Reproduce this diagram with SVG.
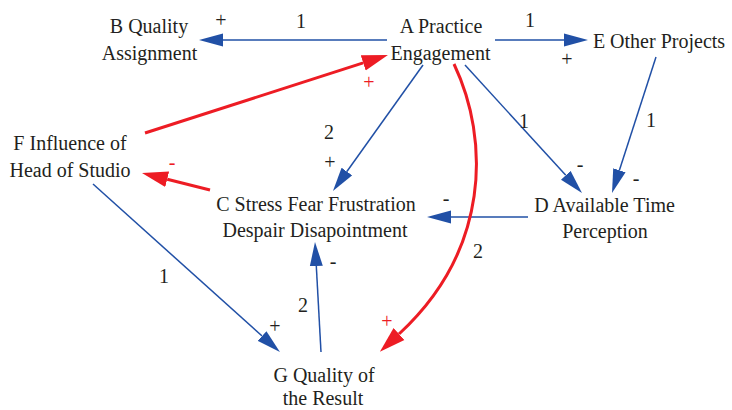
<svg xmlns="http://www.w3.org/2000/svg" width="732" height="410" viewBox="0 0 732 410" font-family="Liberation Serif, Noto Serif, DejaVu Serif, FreeSerif, Times, serif">
<style>
text{font-size:20px;fill:#231F20;text-anchor:middle}
.rl{fill:#ED1C24}
.b{fill:none;stroke:#2150A6;stroke-width:1.5;marker-end:url(#ab)}
.r{fill:none;stroke:#ED1C24;stroke-width:3;marker-end:url(#ar)}
</style>
<defs>
<marker id="ab" markerUnits="userSpaceOnUse" viewBox="0 -7 24 14" refX="0" refY="0" markerWidth="24" markerHeight="14" orient="auto">
<path d="M0,-6.5 L24,0 L0,6.5 z" fill="#2150A6"/>
</marker>
<marker id="ar" markerUnits="userSpaceOnUse" viewBox="0 -9 26 18" refX="0" refY="0" markerWidth="26" markerHeight="18" orient="auto">
<path d="M0,-8 L26,0 L0,8 z" fill="#ED1C24"/>
</marker>
</defs>
<g id="connectors">
<path class="b" d="M387,40 L223,40"/>
<path class="b" d="M495,40 L564,40"/>
<path class="b" d="M656,57 L619.4,170.2"/>
<path class="b" d="M465,65 L565.8,175.3"/>
<path class="b" d="M423,65 L346.9,171.5"/>
<path class="b" d="M528,217 L451,217"/>
<path class="r" d="M454,64 C490,140 490,250 399,334"/>
<path class="r" d="M210,190 L167.2,179.3"/>
<path class="r" d="M145,133 L363.2,62.9"/>
<path class="b" d="M93,184 L262.1,336"/>
<path class="b" d="M321,352 L316.3,266"/>
<text x="221" y="27">+</text>
<text x="301" y="28">1</text>
<text x="530" y="27">1</text>
<text x="567" y="66">+</text>
<text x="651" y="127">1</text>
<text x="636" y="185">-</text>
<text x="524" y="128">1</text>
<text x="580" y="171">-</text>
<text x="329" y="139">2</text>
<text x="330" y="169">+</text>
<text x="446" y="205">-</text>
<text x="478" y="258">2</text>
<text class="rl" x="387" y="328">+</text>
<text class="rl" x="172" y="169">-</text>
<text class="rl" x="369" y="89">+</text>
<text x="164" y="283">1</text>
<text x="275" y="333">+</text>
<text x="303" y="312">2</text>
<text x="333" y="268">-</text>
</g>
<g id="A"><text x="441" y="33">A Practice</text><text x="440.5" y="60">Engagement</text></g>
<g id="B"><text x="149" y="33">B Quality</text><text x="149.5" y="60">Assignment</text></g>
<g id="C"><text x="316" y="211">C Stress Fear Frustration</text><text x="315" y="237">Despair Disapointment</text></g>
<g id="D"><text x="604.5" y="212">D Available Time</text><text x="605" y="238">Perception</text></g>
<g id="E"><text x="659" y="48">E Other Projects</text></g>
<g id="F"><text x="70" y="150">F Influence of</text><text x="70" y="177">Head of Studio</text></g>
<g id="G"><text x="324" y="382">G Quality of</text><text x="323" y="405">the Result</text></g>
</svg>
